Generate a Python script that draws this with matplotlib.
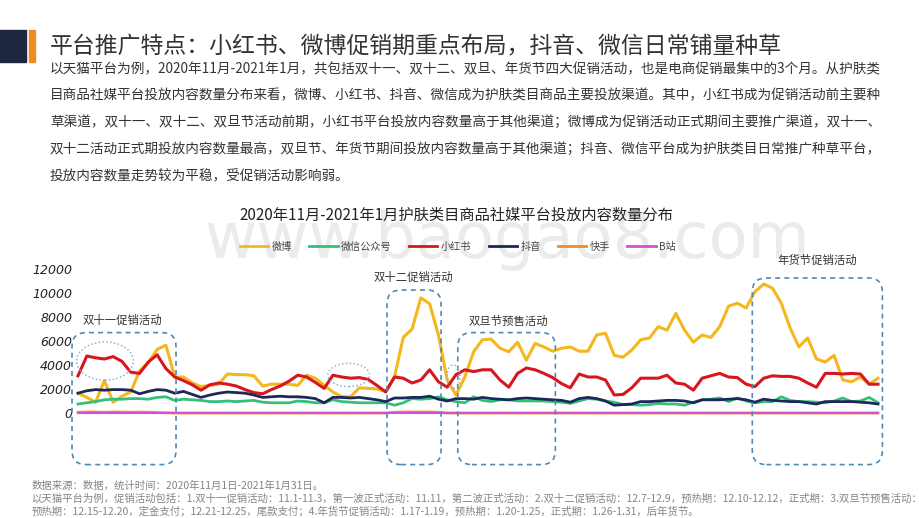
import numpy as np
import pandas as pd
import matplotlib
matplotlib.use("Agg")
import matplotlib.pyplot as plt
from matplotlib.patches import FancyBboxPatch, Ellipse, Rectangle

plt.rcParams['font.family'] = ['Noto Sans CJK SC', 'DejaVu Sans']

# 2020-11-01 .. 2021-01-31, one point per day
dates = pd.date_range('2020-11-01', '2021-01-31', freq='D')

weibo = [1650, 1300, 900, 2700, 900, 1400, 1750, 3500, 4200, 5300,
         5650, 3000, 3000, 2500, 2200, 2300, 2400, 3250, 3200, 3200,
         3100, 2250, 2400, 2400, 2400, 2300, 3150, 2900, 2300, 1750,
         1350, 1350, 2100, 2050, 2000, 1800, 3000, 6300, 7000, 9600,
         9100, 6500, 2750, 1500, 3000, 5100, 6100, 6150, 5400, 5100,
         5900, 4400, 5800, 5500, 5150, 5400, 5500, 5150, 5150, 6500,
         6650, 4800, 4650, 5250, 6100, 6250, 7200, 6900, 8300, 6900,
         5900, 6500, 6300, 7200, 8900, 9150, 8750, 10100, 10750, 10400,
         9150, 7100, 5500, 6250, 4500, 4250, 4800, 2750, 2600, 3000,
         2400, 2900]
wechat = [750, 850, 950, 1100, 1150, 1150, 1200, 1200, 1150, 1300,
          1350, 1050, 1150, 1100, 1050, 950, 950, 1000, 950, 1000,
          1050, 900, 850, 850, 850, 1000, 950, 850, 850, 1100,
          950, 900, 850, 850, 850, 850, 650, 850, 1200, 1150,
          1200, 1350, 1100, 950, 850, 1350, 1050, 950, 1100, 1100,
          1000, 1000, 1000, 1000, 950, 900, 800, 1000, 1200, 1150,
          1000, 900, 700, 700, 650, 700, 800, 750, 750, 650,
          900, 1100, 1150, 1250, 950, 1250, 1000, 850, 950, 950,
          1350, 1050, 950, 950, 900, 850, 1000, 1250, 950, 1000,
          1300, 850]
xhs = [3100, 4750, 4600, 4500, 4700, 4300, 3400, 3300, 4250, 4850,
       3700, 3000, 2700, 2350, 1900, 2350, 2500, 2400, 2250, 1950,
       1700, 1600, 1950, 2250, 2650, 3150, 3000, 2550, 2050, 3150,
       3000, 2900, 2950, 2800, 2300, 1750, 3000, 2900, 2500, 2750,
       3600, 2600, 2150, 3200, 3600, 3450, 3600, 3600, 2750, 2150,
       3300, 3750, 3600, 3300, 2950, 2450, 2100, 3250, 3000, 3000,
       2750, 1500, 1550, 2100, 2900, 2900, 2900, 3150, 2500, 2400,
       1900, 2900, 3100, 3300, 3000, 2950, 2400, 2200, 2900, 3100,
       3050, 3050, 2900, 2500, 2150, 3300, 3300, 3250, 3300, 3250,
       2400, 2400]
douyin = [1650, 1850, 1950, 1900, 1950, 1950, 1900, 1600, 1800, 1950,
          1900, 1650, 1800, 1550, 1300, 1500, 1650, 1750, 1700, 1650,
          1500, 1300, 1350, 1400, 1350, 1350, 1300, 1200, 850, 1300,
          1300, 1250, 1300, 1200, 1100, 950, 1250, 1250, 1300, 1300,
          1400, 1150, 1000, 1200, 1200, 1150, 1300, 1200, 1150, 1100,
          1200, 1250, 1200, 1150, 1100, 1050, 900, 1200, 1300, 1200,
          1000, 650, 700, 750, 950, 950, 1000, 1050, 1050, 1000,
          850, 1100, 1100, 1100, 1150, 1200, 1100, 900, 1150, 1050,
          1000, 950, 950, 850, 750, 950, 950, 950, 950, 900,
          850, 750]
kuaishou = [60, 80, 80, 60, 80, 80, 60, 80, 60, 40,
            20, 0, 0, 0, 0, 0, 0, 0, 0, 0,
            0, 0, 0, 0, 0, 0, 0, 0, 0, 0,
            0, 0, 0, 0, 0, 0, 60, 80, 80, 80,
            80, 60, 0, 0, 0, 0, 0, 0, 0, 0,
            0, 0, 0, 0, 0, 0, 0, 0, 0, 0,
            0, 0, 0, 0, 0, 0, 0, 0, 0, 0,
            0, 0, 0, 0, 0, 0, 0, 0, 0, 0,
            0, 0, 0, 0, 0, 0, 0, 0, 0, 0,
            0, 0]
bilibili = [0] * len(dates)

series = [('微博', weibo, '#f4b71c', 2.2),
          ('微信公众号', wechat, '#34c079', 2.0),
          ('小红书', xhs, '#d7161e', 2.2),
          ('抖音', douyin, '#1b2858', 2.0),
          ('快手', kuaishou, '#f08a2c', 2.0),
          ('B站', bilibili, '#d152d1', 1.5)]

# promotion boxes: (label, first day, last day, top value, label day, label value)
promos = [('双十一促销活动', -0.68, 11.15, 6700, 5.1, 7700),
          ('双十二促销活动', 35.15, 41.3, 10250, 38.1, 11300),
          ('双旦节预售活动', 43.2, 54.3, 6700, 49.0, 7600),
          ('年货节促销活动', 76.7, 91.5, 11250, 84.1, 12700)]
box_bottom = -4300
# dotted ellipses: (center day, center value, width days, height value)
rings = [(3.07, 4330, 6.45, 3190),
         (30.8, 3170, 4.74, 1940),
         (42.7, 3030, 1.52, 1940)]

yticks = [0, 2000, 4000, 6000, 8000, 10000, 12000]

W, H = 920, 518
fig = plt.figure(figsize=(9.2, 5.18), dpi=100)
fig.patch.set_facecolor('white')

# watermark
fig.text(507 / W, 1 - 240 / H, 'www.baogao8.com', fontsize=46, color='#ebebeb',
         ha='center', va='center', family='DejaVu Sans', zorder=-1)

# header
fig.patches.append(Rectangle((0, 1 - 62 / H), 26 / W, 32 / H, transform=fig.transFigure,
                             color='#1f2640', zorder=1))
fig.patches.append(Rectangle((29 / W, 1 - 62 / H), 6 / W, 32 / H, transform=fig.transFigure,
                             color='#f08a24', zorder=1))
fig.text(50 / W, 1 - 46 / H, '平台推广特点：小红书、微博促销期重点布局，抖音、微信日常铺量种草',
         fontsize=16.5, color='#333333', va='center', ha='left')

para = ['以天猫平台为例，2020年11月-2021年1月，共包括双十一、双十二、双旦、年货节四大促销活动，也是电商促销最集中的3个月。从护肤类',
        '目商品社媒平台投放内容数量分布来看，微博、小红书、抖音、微信成为护肤类目商品主要投放渠道。其中，小红书成为促销活动前主要种',
        '草渠道，双十一、双十二、双旦节活动前期，小红书平台投放内容数量高于其他渠道；微博成为促销活动正式期间主要推广渠道，双十一、',
        '双十二活动正式期投放内容数量最高，双旦节、年货节期间投放内容数量高于其他渠道；抖音、微信平台成为护肤类目日常推广种草平台，',
        '投放内容数量走势较为平稳，受促销活动影响弱。']
for k, line in enumerate(para):
    fig.text(50 / W, 1 - (69 + 26.75 * k) / H, line, fontsize=9.8, color='#333333',
             va='center', ha='left')

fig.text(456 / W, 1 - 215 / H, '2020年11月-2021年1月护肤类目商品社媒平台投放内容数量分布',
         fontsize=11, color='#222222', ha='center', va='center')

# chart axes: day index -> pixel 78 + 8.79*i ; value 0 at y=413, 12000 at y=269
px_day = 800 / 91
x0, x1 = -0.5, 93.5
v_per_px = 12000 / 144
y_top_px, y_bot_px = 250, 470
left = (78 + x0 * px_day) / W
width = (x1 - x0) * px_day / W
ax = fig.add_axes([left, 1 - y_bot_px / H, width, (y_bot_px - y_top_px) / H])
ax.set_xlim(x0, x1)
ax.set_ylim((413 - y_bot_px) * v_per_px, (413 - y_top_px) * v_per_px)
ax.patch.set_visible(False)

x = np.arange(len(dates))
for name, vals, color, lw in series:
    ax.plot(x, vals, color=color, lw=lw, label=name, solid_joinstyle='round', zorder=3)

ax.set_yticks(yticks)
ax.set_yticklabels([str(t) for t in yticks], fontsize=9, color='#222222',
                   family='DejaVu Sans', style='italic')
ax.set_xticks([])
ax.tick_params(axis='y', length=0, pad=1)
for s in ax.spines.values():
    s.set_visible(False)

aspect = v_per_px / (1 / px_day)
for label, d0, d1, top, lx, ly in promos:
    box = FancyBboxPatch((d0, box_bottom), d1 - d0, top - box_bottom,
                         boxstyle='round,pad=0,rounding_size=1.6', mutation_aspect=aspect,
                         fill=False, edgecolor='#4f8ab3', lw=1.2, ls=(0, (3, 2.5)),
                         clip_on=False, zorder=4)
    ax.add_patch(box)
    ax.text(lx, ly, label, fontsize=8.2, color='#333333', ha='center', va='center')

for cx, cy, w, h in rings:
    ax.add_patch(Ellipse((cx, cy), w, h, fill=False, edgecolor='#8fb3c8', lw=1.1,
                         ls=(0, (1, 1.5)), clip_on=False, zorder=4))

leg = fig.legend(*ax.get_legend_handles_labels(), loc='center', ncol=6,
                 bbox_to_anchor=(458 / W, 1 - 247 / H), frameon=False, fontsize=7.3,
                 handlelength=2.8, columnspacing=1.7, handletextpad=0.35, labelcolor='#444444')
for h in leg.get_lines():
    h.set_linewidth(2.0)

notes = ['数据来源：数据，统计时间：2020年11月1日-2021年1月31日。',
         '以天猫平台为例，促销活动包括：1.双十一促销活动：11.1-11.3，第一波正式活动：11.11，第二波正式活动：2.双十二促销活动：12.7-12.9，预热期：12.10-12.12，正式期：3.双旦节预售活动：12.',
         '预热期：12.15-12.20，定金支付；12.21-12.25，尾款支付；4.年货节促销活动：1.17-1.19，预热期：1.20-1.25，正式期：1.26-1.31，后年货节。']
for k, line in enumerate(notes):
    fig.text(32 / W, 1 - (486 + 12.5 * k) / H, line, fontsize=7.5, color='#858585',
             ha='left', va='center')

fig.savefig('out.png', dpi=100, facecolor='white')
